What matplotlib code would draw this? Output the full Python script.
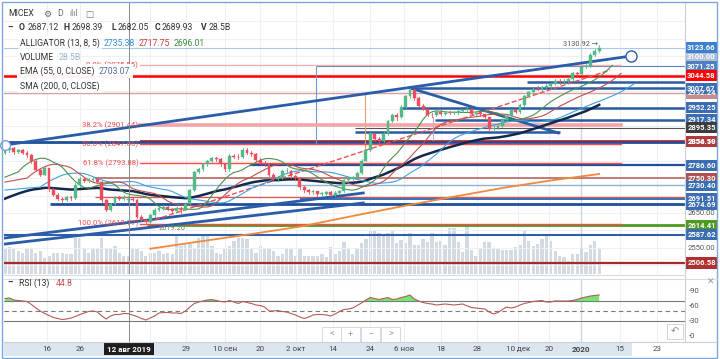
import matplotlib
matplotlib.use("Agg")
import matplotlib.pyplot as plt
from matplotlib.patches import Rectangle
from matplotlib.lines import Line2D
import numpy as np

plt.rcParams['font.family'] = ['Roboto', 'DejaVu Sans']

# daily candles, MICEX, early Jul 2019 .. 10 Jan 2020
opens = [2822, 2831, 2838, 2825, 2830, 2822, 2816, 2800, 2774, 2760,
         2778, 2718, 2702, 2690, 2688, 2696, 2693, 2730, 2748, 2742,
         2745, 2747, 2740, 2686, 2660, 2675, 2695, 2690, 2687.12, 2690,
         2688, 2640, 2630, 2624, 2643, 2660, 2665, 2668, 2662, 2655,
         2665, 2660, 2675, 2715, 2768, 2775, 2790, 2800, 2808, 2805,
         2790, 2775, 2815, 2812, 2810, 2832, 2823, 2820, 2803, 2795,
         2790, 2760, 2748, 2750, 2770, 2772, 2755, 2750, 2725, 2715,
         2710, 2712, 2705, 2706, 2710, 2703, 2708, 2712, 2745, 2748,
         2752, 2765, 2800, 2830, 2878, 2862, 2858, 2878, 2915, 2930,
         2925, 2955, 2985, 3002, 2980, 2958, 2950, 2932, 2930, 2940,
         2935, 2938, 2937, 2938, 2942, 2945, 2950, 2935, 2936, 2933,
         2925, 2890, 2895, 2900, 2918, 2928, 2945, 2940, 2960, 2985,
         2996, 3006, 3004, 3012, 3015, 3020, 3030, 3025, 3030, 3035,
         3052, 3048, 3070, 3072, 3104, 3115]
highs = [2838, 2842, 2840, 2835, 2833, 2828, 2818, 2802, 2778, 2782,
         2780, 2722, 2708, 2696, 2700, 2699, 2735, 2752, 2752, 2750,
         2752, 2750, 2742, 2690, 2680, 2700, 2698, 2702, 2698.39, 2695,
         2690, 2645, 2634, 2648, 2664, 2670, 2672, 2670, 2665, 2668,
         2668, 2678, 2718, 2772, 2780, 2794, 2803, 2812, 2812, 2808,
         2792, 2818, 2820, 2818, 2838, 2836, 2828, 2822, 2808, 2800,
         2792, 2764, 2756, 2774, 2778, 2774, 2760, 2752, 2728, 2720,
         2716, 2714, 2710, 2714, 2712, 2712, 2716, 2748, 2752, 2756,
         2768, 2804, 2834, 2882, 2880, 2868, 2882, 2918, 2934, 2936,
         2960, 2990, 3008, 3005, 2984, 2962, 2952, 2938, 2945, 2946,
         2942, 2942, 2942, 2946, 2950, 2955, 2952, 2940, 2940, 2935,
         2927, 2900, 2905, 2922, 2932, 2950, 2948, 2964, 2988, 3000,
         3010, 3016, 3016, 3020, 3024, 3034, 3034, 3034, 3040, 3056,
         3056, 3074, 3078, 3108, 3120, 3130.92]
lows = [2818, 2826, 2820, 2822, 2818, 2812, 2795, 2770, 2755, 2758,
        2712, 2698, 2686, 2682, 2684, 2688, 2690, 2726, 2738, 2738,
        2738, 2736, 2682, 2655, 2656, 2672, 2686, 2688, 2682.05, 2684,
        2636, 2626, 2619.77, 2622, 2640, 2655, 2660, 2658, 2650, 2652,
        2650, 2658, 2672, 2712, 2765, 2772, 2786, 2796, 2800, 2786,
        2770, 2772, 2808, 2806, 2808, 2818, 2815, 2800, 2790, 2786,
        2755, 2744, 2742, 2748, 2764, 2750, 2746, 2720, 2710, 2706,
        2706, 2700, 2700, 2702, 2698, 2700, 2704, 2710, 2740, 2744,
        2750, 2762, 2798, 2828, 2856, 2852, 2855, 2875, 2910, 2918,
        2922, 2952, 2980, 2975, 2954, 2945, 2928, 2926, 2928, 2930,
        2932, 2934, 2934, 2935, 2940, 2942, 2930, 2930, 2928, 2920,
        2885, 2886, 2890, 2897, 2915, 2925, 2936, 2938, 2958, 2982,
        2992, 3002, 3000, 3008, 3010, 3018, 3020, 3022, 3026, 3032,
        3044, 3046, 3066, 3070, 3100, 3112]
closes = [2831, 2838, 2825, 2830, 2822, 2816, 2800, 2774, 2760, 2778,
          2718, 2702, 2690, 2688, 2696, 2693, 2730, 2748, 2742, 2745,
          2747, 2740, 2686, 2660, 2675, 2695, 2690, 2697, 2689.93, 2688,
          2640, 2630, 2624, 2643, 2660, 2665, 2668, 2662, 2655, 2665,
          2660, 2675, 2715, 2768, 2775, 2790, 2800, 2808, 2805, 2790,
          2775, 2815, 2812, 2810, 2832, 2823, 2820, 2803, 2795, 2790,
          2760, 2748, 2750, 2770, 2772, 2755, 2750, 2725, 2715, 2710,
          2712, 2705, 2706, 2710, 2703, 2708, 2712, 2745, 2748, 2752,
          2765, 2800, 2830, 2878, 2862, 2858, 2878, 2915, 2930, 2925,
          2955, 2985, 3002, 2980, 2958, 2950, 2932, 2930, 2940, 2935,
          2938, 2937, 2938, 2942, 2945, 2950, 2935, 2936, 2933, 2925,
          2890, 2895, 2900, 2918, 2928, 2945, 2940, 2960, 2985, 2996,
          3006, 3004, 3012, 3015, 3020, 3030, 3025, 3030, 3035, 3052,
          3048, 3070, 3072, 3104, 3115, 3123.66]
volumes = [41.1, 42.7, 39.5, 36.3, 33.2, 41.1, 39.5, 33.2, 36.3, 25.3,
           28.4, 33.2, 33.2, 33.2, 31.6, 31.6, 56.9, 56.9, 39.5, 33.2,
           41.1, 41.1, 56.9, 41.1, 39.5, 44.2, 33.2, 28.4, 28.5, 39.5,
           41.1, 36.3, 28.4, 33.2, 33.2, 36.3, 31.6, 33.2, 31.6, 60.0,
           44.2, 49.0, 47.4, 41.1, 56.9, 60.0, 60.0, 44.2, 33.2, 31.6,
           41.1, 44.2, 52.1, 56.9, 56.9, 55.3, 41.1, 33.2, 44.2, 39.5,
           41.1, 36.3, 28.4, 31.6, 39.5, 39.5, 28.4, 39.5, 28.4, 28.4,
           28.4, 28.4, 31.6, 26.9, 42.7, 31.6, 36.3, 50.6, 39.5, 31.6,
           39.5, 49.0, 55.3, 67.9, 67.9, 64.8, 63.2, 64.8, 67.9, 49.0,
           53.7, 49.0, 64.8, 45.8, 45.8, 55.3, 50.6, 64.8, 50.6, 52.1,
           45.8, 72.7, 72.7, 50.6, 34.8, 74.3, 37.9, 28.4, 39.5, 50.6,
           50.6, 41.1, 39.5, 37.9, 37.9, 37.9, 42.7, 45.8, 67.9, 52.1,
           44.2, 47.4, 55.3, 60.0, 52.1, 36.3, 28.4, 26.9, 20.5, 31.6,
           31.6, 39.5, 34.8, 45.8, 52.1, 39.5]
rsi = [75, 76, 72, 71, 70, 69, 63, 56, 50, 45,
       41, 37, 35, 33, 34, 36, 39, 43, 46, 49,
       50, 48, 40, 34, 40, 43, 43, 45, 44.8, 42,
       39, 35, 32, 36, 40, 46, 47, 47, 46, 46,
       45, 50, 58, 65, 68, 70, 72, 73, 71, 69,
       68, 71, 68, 65, 69, 67, 65, 62, 61, 58,
       50, 50, 51, 49, 48, 45, 42, 38, 35, 38,
       42, 43, 43, 42, 40, 44, 49, 53, 54, 56,
       61, 66, 72, 77, 75, 73, 75, 77, 73, 74,
       77, 79, 82, 74, 70, 67, 65, 64, 62, 63,
       64, 63, 62, 63, 64, 60, 57, 56, 55, 54,
       48, 44, 47, 53, 58, 56, 58, 62, 65, 67,
       69, 70, 71, 68, 68, 70, 70, 70, 70, 71,
       73, 76, 78, 80, 81, 82]

# SMA 200 at a few bars
sma_bars = [33, 45, 56, 67, 79, 90, 101, 113, 124, 135]
sma_vals = [2547.6, 2569.7, 2589.8, 2610.8, 2641.5, 2668.8, 2694.6, 2721.9, 2743.4, 2762.0]

# indicator values at the left edge of the chart
ema_start = 2686
jaw_start, teeth_start, lips_start = 2716, 2739, 2753

# time axis
tick_pos = [9.5, 17.0, 33.0, 41.1, 50.0, 58.0, 66.1, 74.5, 83.0, 90.7, 99.1, 107.3, 116.6, 123.6, 130.9, 139.8, 148.2]
tick_labels = ['16', '26', '19', '29', '10 сен', '20', '2 окт', '14', '24', '6 ноя', '18', '28', '10 дек', '20', '2020', '15', '23']
cross_bar = 28.18

# fibonacci retracement
fib_levels = ['0.0%', '38.2%', '50.0%', '61.8%', '100.0%']
fib_prices = [3075.55, 2901.44, 2847.66, 2793.88, 2619.77]

# horizontal drawings: price, from bar, to bar, colour, width
hlines = [
    (3123.66, -1, 160, '#a9cbeb', 0.8),
    (3071.25, 70.7, 160, '#5a84bd', 0.8),
    (3044.58, -1, 160, '#ff0000', 1.8),
    (3026.0, 118.6, 160, '#2b5ba3', 1.8),
    (3007.67, 92.0, 160, '#2b5ba3', 1.8),
    (2994.5, -1, 160, '#d7a0a0', 1.0),
    (2952.25, 89.8, 160, '#2b5ba3', 1.8),
    (2917.34, 97.7, 160, '#2b5ba3', 1.8),
    (2895.35, 79.5, 160, '#555555', 0.8),
    (2883.0, 79.5, 126.0, '#2b5ba3', 1.8),
    (2856.50, 30.7, 160, '#ff2020', 1.4),
    (2854.19, -1, 160, '#1f4e9a', 2.0),
    (2786.60, 55.7, 160, '#1f4e9a', 1.6),
    (2750.3, 20.5, 160, '#b05a50', 1.1),
    (2730.40, 20.5, 160, '#8fb0d8', 1.0),
    (2697.0, 20.5, 160, '#d9534f', 0.9),
    (2691.51, 67.0, 160, '#3a6fb5', 1.4),
    (2674.69, 10.2, 160, '#1f4e9a', 2.0),
    (2614.41, 32.3, 160, '#4c9a20', 2.0),
    (2587.62, -1, 160, '#2f5fa8', 1.5),
    (2506.58, -1, 160, '#a52a2a', 1.6),
]

# trend lines: (bar0, price0, bar1, price1, colour, width, style)
trend_lines = [
    (0.0, 2845.3, 142.3, 3100.7, '#2a5caa', 2.0, '-'),
    (0.0, 2561.1, 81.4, 2678.8, '#2a5caa', 2.0, '-'),
    (0.0, 2578.3, 81.4, 2707.5, '#2a5caa', 2.0, '-'),
    (92.0, 3008.9, 125.7, 2879.7, '#2a5caa', 2.0, '-'),
    (32.5, 2624.3, 137.5, 3060.5, '#f05050', 1.0, '--'),
]

# price scale labels: price, text, background
scale_back = [
    (3100.00, '3100.00', '#aebfd6'),
    (3071.25, '3071.25', '#4f7fc0'),
    (2994.5, '2992.24', '#c98c8c'),
    (2917.34, '2917.34', '#3b6db3'),
    (2854.19, '2854.19', '#3b6db3'),
    (2750.3, '2750.30', '#b05050'),
    (2674.69, '2674.69', '#3b6db3'),
]
scale_front = [
    (3123.66, '3123.66', '#3d7fd0'),
    (3044.58, '3044.58', '#ff0000'),
    (3007.67, '3007.67', '#3b6db3'),
    (2952.25, '2952.25', '#3b6db3'),
    (2895.35, '2895.35', '#3c3c3c'),
    (2856.50, '2856.50', '#b23a3a'),
    (2786.60, '2786.60', '#3b6db3'),
    (2730.40, '2730.40', '#3b6db3'),
    (2691.51, '2691.51', '#3b6db3'),
    (2614.41, '2614.41', '#4c9a20'),
    (2587.62, '2587.62', '#3b6db3'),
    (2506.58, '2506.58', '#b03030'),
]

W, H = 720, 359
XL = (-0.227, 154.5)
YL = (2475.0, 3252.8)


def frect(x0, y0, x1, y1):
    return [x0 / W, 1 - y1 / H, (x1 - x0) / W, (y1 - y0) / H]


def fpt(px, py):
    return px / W, 1 - py / H


def smma(values, n, seed):
    out = []
    s = seed
    for v in values:
        s = (s * (n - 1) + v) / n
        out.append(s)
    return out


o = np.array(opens)
h = np.array(highs)
l = np.array(lows)
c = np.array(closes)
x = np.arange(len(c))
median = (h + l) / 2

ema = []
e = ema_start
for v in c:
    e = e + 2 / 56 * (v - e)
    ema.append(e)

fig = plt.figure(figsize=(7.2, 3.59), dpi=100)
fig.patch.set_facecolor('white')

# volume underneath
axv = fig.add_axes(frect(4, 3, 685, 274))
axv.set_xlim(*XL)
axv.set_ylim(0, 271 * 1.58)
axv.bar(x, volumes, width=0.75, color='#cdd4dc', alpha=0.85, linewidth=0)
axv.axis('off')

ax = fig.add_axes(frect(4, 3, 685, 274))
ax.patch.set_visible(False)
ax.set_xlim(*XL)
ax.set_ylim(*YL)
for s in ax.spines.values():
    s.set_visible(False)
ax.set_xticks([])
ax.set_yticks([])

# grid
for t in tick_pos:
    ax.axvline(t, color='#edf0f4', lw=0.8, zorder=0)
for p in range(2500, 3201, 50):
    ax.axhline(p, color='#edf0f4', lw=0.8, zorder=0)
ax.axvline(130.9, color='#d0d6de', lw=1.0, zorder=0)

# drawings
for p, b0, b1, col, lw in hlines:
    ax.plot([b0, b1], [p, p], color=col, lw=lw, zorder=2, solid_capstyle='butt')
for b0, p0, b1, p1, col, lw, ls in trend_lines:
    ax.plot([b0, b1], [p0, p1], color=col, lw=lw, ls=ls, zorder=3)
ax.plot([142.3], [3100.7], 'o', ms=8, mfc='white', mec='#2a5caa', mew=1.0, zorder=6)
ax.plot([0.0], [2845.3], 'o', ms=7, mfc='white', mec='#7aa0cf', mew=1.0, zorder=6, clip_on=False)

# thin verticals of other drawings
ax.plot([70.7, 70.7], [3069, 2851], color='#6f9ad0', lw=0.8, zorder=2)
ax.plot([81.8, 81.8], [2989, 2802], color='#e8a060', lw=0.8, zorder=2)
ax.plot([97.3, 97.3], [2926, 2860], color='#b8a8d8', lw=0.8, zorder=2)

# fibonacci
fib_cols = ['#f7b0b0', '#f5a5a5', '#ff4a4a', '#ff4a4a', '#ff4a4a']
fib_w = [1.0, 2.6, 1.0, 1.0, 1.0]
for name, p, col, lw in zip(fib_levels, fib_prices, fib_cols, fib_w):
    ax.plot([30.7, 140.0], [p, p], color=col, lw=lw, zorder=2)
    ax.text(30.3, p, '%s (%.2f)' % (name, p), ha='right', va='center', fontsize=5.6,
            color='#f04a4a', zorder=4)

# indicators
ax.plot(x, ema, color='#13294b', lw=1.8, zorder=4)
ax.plot(sma_bars, sma_vals, color='#f0883e', lw=1.3, zorder=4)
for vals, n, shift, seed, col in [(median, 13, 8, jaw_start, '#3fa0e0'),
                                  (median, 8, 5, teeth_start, '#c0504d'),
                                  (median, 5, 3, lips_start, '#4e8f4e')]:
    sm = smma(vals, n, seed)
    ax.plot([0] + list(x + shift), [seed] + sm, color=col, lw=0.8, zorder=4)

# candles
up, down = '#53b987', '#eb4d5c'
for i in range(len(c)):
    col = up if c[i] >= o[i] else down
    ax.plot([i, i], [l[i], h[i]], color=col, lw=0.6, zorder=5)
    lo = min(o[i], c[i])
    ht = max(abs(c[i] - o[i]), 1.5)
    ax.add_patch(Rectangle((i - 0.32, lo), 0.64, ht, fc=col, ec=col, lw=0.3, zorder=5))

ax.text(134.8, 3133, '3130.92 →', ha='right', va='center', fontsize=5.3, color='#555555', zorder=6)
ax.text(38.0, 2607, '2619.20', ha='center', va='center', fontsize=5.3, color='#777777', zorder=6)

# crosshair
ax.axvline(cross_bar, color='#8a8a8a', lw=0.7, zorder=6)

# price scale
tr = ax.get_yaxis_transform()
for p, s in [(2650.0, '2650.00'), (2550.0, '2550.00')]:
    ax.text(1.0242, p, s, transform=tr, ha='center', va='center', fontsize=5.5, color='#555555', clip_on=False)
for p, s, col in scale_back + scale_front:
    ax.add_patch(Rectangle((1.0015, p - 15.8), 0.0455, 31.6, transform=tr, fc=col, ec='none',
                           clip_on=False, zorder=7))
    ax.text(1.0242, p, s, transform=tr, ha='center', va='center', fontsize=5.5, color='white',
            fontweight='bold', clip_on=False, zorder=8)

# RSI pane
axr = fig.add_axes(frect(4, 279, 685, 342))
axr.set_xlim(*XL)
axr.set_ylim(-12, 114)
for s in axr.spines.values():
    s.set_visible(False)
axr.set_xticks([])
axr.set_yticks([])
for t in tick_pos:
    axr.axvline(t, color='#edf0f4', lw=0.8, zorder=0)
axr.axvline(130.9, color='#d0d6de', lw=1.0, zorder=0)
axr.axhline(70, color='#7a7a7a', lw=0.8)
axr.axhline(30, color='#7a7a7a', lw=0.8)
axr.axhline(50, color='#7a7a7a', lw=0.8, ls=(0, (4, 3)))
r = np.array(rsi, dtype=float)
axr.fill_between(x, r, 70, where=r > 70, interpolate=True, color='#72e572', lw=0, zorder=2)
axr.plot(x, r, color='#b65a5a', lw=0.8, zorder=3)
axr.axvline(cross_bar, color='#8a8a8a', lw=0.7, zorder=6)
trr = axr.get_yaxis_transform()
for v in [90, 60, 30, 0]:
    axr.text(1.006, v, '-' + str(v), transform=trr, ha='left', va='center', fontsize=5.5,
             color='#555555', clip_on=False)

# time axis
axt = fig.add_axes(frect(4, 342, 685, 356))
axt.set_xlim(*XL)
axt.set_ylim(0, 1)
axt.axis('off')
axt.add_patch(Rectangle((XL[0], 0), 142.5 - XL[0], 1, fc='#dce6f1', ec='none'))
for t, s in zip(tick_pos, tick_labels):
    axt.text(t, 0.5, s, ha='center', va='center', fontsize=5.8, color='#444444',
             fontweight='bold' if s == '2020' else 'normal')
axt.text(cross_bar, 0.5, '12 авг 2019', ha='center', va='center', fontsize=5.8, color='white',
         fontweight='bold', bbox=dict(boxstyle='square,pad=0.35', fc='#1e1e1e', ec='none'))

# frames and separators
for (x0, y0, x1, y1, col) in [(685, 3, 685, 342, '#c9d0d9'), (4, 274.5, 685, 274.5, '#d6dce4'),
                              (4, 278.5, 718, 278.5, '#d6dce4'), (4, 342, 718, 342, '#c9d0d9')]:
    fig.add_artist(Line2D([x0 / W, x1 / W], [1 - y0 / H, 1 - y1 / H], color=col, lw=0.8))
fig.add_artist(Rectangle(fpt(2, 358), 715 / W, 356 / H, fill=False, ec='#7aa7dc', lw=1.0,
                         transform=fig.transFigure))


# legend
def ftxt(px, py, s, **kw):
    kw.setdefault('fontsize', 6.2)
    kw.setdefault('color', '#333333')
    fig.text(px / W, 1 - py / H, s, va='center', **kw)


ftxt(8, 14, 'MICEX')
ftxt(43, 14, '⚙', color='#666666', fontsize=6.5)
ftxt(57, 14, 'D', color='#666666')
ftxt(69, 14, 'ılıl', color='#777777')
ftxt(85, 14, '□', color='#777777')
ftxt(7, 28, '–', fontweight='bold')
for px, s, bold in [(19, 'O', True), (28, '2687.12', False), (64, 'H', True), (72, '2698.39', False),
                    (111, 'L', True), (118, '2682.05', False), (155, 'C', True), (162, '2689.93', False),
                    (201, 'V', True), (209, '28.5B', False)]:
    ftxt(px, 28, s, fontweight='bold' if bold else 'normal')
box = dict(boxstyle='square,pad=0.25', fc='white', ec='none', alpha=0.8)
ftxt(20, 43, 'ALLIGATOR (13, 8, 5)', bbox=box)
ftxt(104, 43, '2735.38', color='#2f8fd8')
ftxt(139, 43, '2717.75', color='#d03c3c')
ftxt(174, 43, '2696.01', color='#3f8f3f')
ftxt(20, 57, 'VOLUME', bbox=box)
ftxt(59, 57, '28.5B', color='#9fb3c8')
ftxt(20, 71, 'EMA (55, 0, CLOSE)', bbox=dict(boxstyle='square,pad=0.3', fc='white', ec='none', alpha=0.95))
ftxt(99, 71, '2703.07', color='#4a6fa0', bbox=dict(boxstyle='square,pad=0.3', fc='white', ec='none', alpha=0.95))
ftxt(20, 86, 'SMA (200, 0, CLOSE)', bbox=box)
ftxt(7, 283, '–', fontweight='bold')
ftxt(19, 283, 'RSI (13)')
ftxt(56, 283, '44.8', color='#c0504d')

# small controls
for bx, s in [(322, '<'), (341, '+'), (361, '−'), (381, '>')]:
    fig.add_artist(Rectangle(fpt(bx, 342), 19 / W, 15 / H, fc='white', ec='#d0d6de', lw=0.7,
                             alpha=0.9, transform=fig.transFigure))
    ftxt(bx + 9.5, 334.5, s, ha='center', color='#999999', fontsize=6.5)
fig.add_artist(Rectangle(fpt(667, 339), 16 / W, 15 / H, fc='white', ec='#d0d6de', lw=0.7,
                         transform=fig.transFigure))
ftxt(675, 331.5, '↶', ha='center', color='#888888', fontsize=7)
ftxt(711, 282, '✕', ha='center', color='#999999', fontsize=6.5)

fig.savefig('out.png', dpi=100)
